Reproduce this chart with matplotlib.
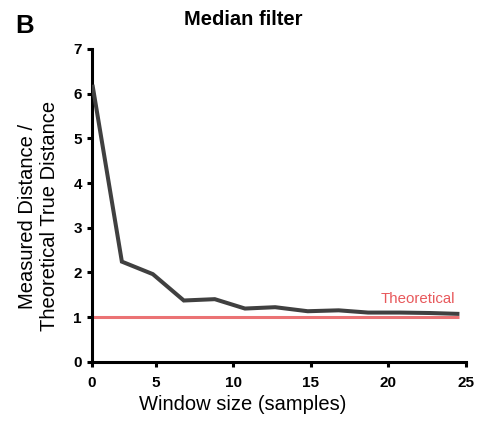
import matplotlib
matplotlib.use("Agg")
import matplotlib.pyplot as plt

plt.rcParams["font.family"] = ["Liberation Sans", "DejaVu Sans"]

# ==================================================
# Data
# ==================================================
window_size = [0.9, 2.8, 4.8, 6.8, 8.8, 10.75, 12.7, 14.8, 16.8, 18.7, 20.75, 22.7, 24.6]
ratio = [6.2, 2.24, 1.96, 1.37, 1.40, 1.19, 1.22, 1.13, 1.15, 1.10, 1.10, 1.09, 1.07]
theoretical_x = [0.9, 24.6]
theoretical_y = [1.0, 1.0]

x_ticks = [0.85, 5, 10, 15, 20, 25]
x_tick_labels = ["0", "5", "10", "15", "20", "25"]
y_ticks = [0, 1, 2, 3, 4, 5, 6, 7]

W, H = 481, 423

# ==================================================
# Figure
# ==================================================
fig = plt.figure(figsize=(W / 100, H / 100), dpi=100)
ax = fig.add_axes([0.1906, 0.1449, 0.968 - 0.1906, 0.8842 - 0.1449])

ax.plot(theoretical_x, theoretical_y, "-", color="#e8595c", lw=2.2, alpha=0.85,
        solid_capstyle="butt", zorder=2)
ax.plot(window_size, ratio, "-", color="#404040", lw=2.9,
        solid_capstyle="butt", solid_joinstyle="miter", zorder=3)

ax.text(24.3, 1.32, "Theoretical", color="#e8595c", fontsize=10.8,
        ha="right", va="baseline")

ax.set_xlim(0.85, 25)
ax.set_ylim(0, 7)
ax.set_xticks(x_ticks)
ax.set_xticklabels(x_tick_labels)
ax.set_yticks(y_ticks)

for side in ["top", "right"]:
    ax.spines[side].set_visible(False)
for side in ["left", "bottom"]:
    ax.spines[side].set_linewidth(2.2)
    ax.spines[side].set_capstyle("projecting")

ax.tick_params(axis="both", width=2.2, length=3.5, labelsize=11)
ax.tick_params(axis="x", pad=6.5)
ax.tick_params(axis="y", pad=3.5)
for lbl in ax.get_xticklabels() + ax.get_yticklabels():
    lbl.set_fontweight("bold")

# axis labels placed in pixels, as in the reference (not centred on the axes)
fig.text(243 / W, 1 - 404 / H, "Window size (samples)", fontsize=14.5,
         ha="center", va="center")
fig.text(39 / W, 1 - 216 / H, "Measured Distance /\nTheoretical True Distance",
         fontsize=14.5, rotation=90, ha="center", va="center", linespacing=1.2)

fig.text(243 / W, 1 - 25 / H, "Median filter", fontsize=14.5,
         fontweight="bold", ha="center", va="baseline")
fig.text(15 / W, 1 - 33.3 / H, "B", fontsize=18.5, fontweight="bold",
         ha="left", va="baseline")

fig.savefig("out.png", dpi=100)
